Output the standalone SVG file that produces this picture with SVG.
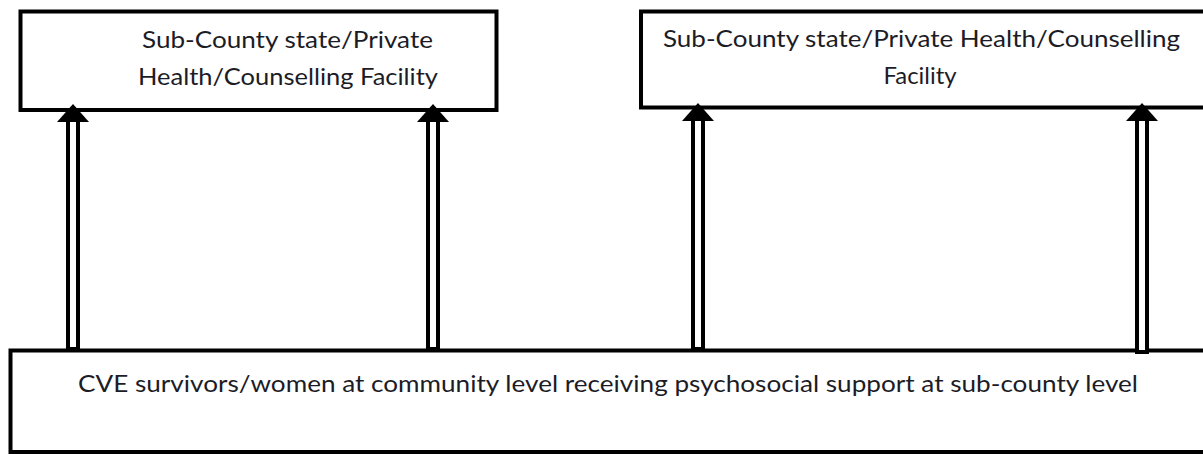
<svg xmlns="http://www.w3.org/2000/svg" width="1203" height="454" viewBox="0 0 1203 454">
  <style>
    .box{fill:#fff;stroke:#000;stroke-width:4}
    .lbl{font-family:Lato,"Open Sans","Liberation Sans",sans-serif;font-size:23.5px;fill:#1c1c26;text-anchor:middle}
    .stem{fill:#fff;stroke:#000;stroke-width:4}
    .head{fill:#000}
  </style>
  <rect width="1203" height="454" fill="#fff"/>

  <!-- upper facility boxes -->
  <g id="facility-left">
    <rect class="box" x="20.5" y="11.5" width="476" height="98.5"/>
    <text class="lbl" x="287.5" y="48" textLength="291" lengthAdjust="spacingAndGlyphs">Sub-County state/Private</text>
    <text class="lbl" x="288" y="85" textLength="300" lengthAdjust="spacingAndGlyphs">Health/Counselling Facility</text>
  </g>
  <g id="facility-right">
    <rect class="box" x="641" y="11.5" width="580" height="96"/>
    <text class="lbl" x="921.5" y="47" textLength="517" lengthAdjust="spacingAndGlyphs">Sub-County state/Private Health/Counselling</text>
    <text class="lbl" x="920" y="84" textLength="73" lengthAdjust="spacingAndGlyphs">Facility</text>
  </g>

  <!-- community box -->
  <g id="community">
    <rect class="box" x="10.5" y="350.5" width="1210" height="101.5"/>
    <text class="lbl" x="608" y="392" textLength="1060" lengthAdjust="spacingAndGlyphs">CVE survivors/women at community level receiving psychosocial support at sub-county level</text>
  </g>

  <!-- double-line arrows from community up to facilities -->
  <g id="connectors">
    <rect class="stem" x="68" y="118" width="10" height="231"/>
    <polygon class="head" points="73,104 89,122 57,122"/>

    <rect class="stem" x="428" y="118" width="10" height="231"/>
    <polygon class="head" points="433,104 449,122 417,122"/>

    <rect class="stem" x="693" y="116" width="10" height="233"/>
    <polygon class="head" points="698,103 714,121 682,121"/>

    <rect class="stem" x="1137" y="116" width="10" height="236"/>
    <polygon class="head" points="1142,103 1158,121 1126,121"/>
  </g>
</svg>
